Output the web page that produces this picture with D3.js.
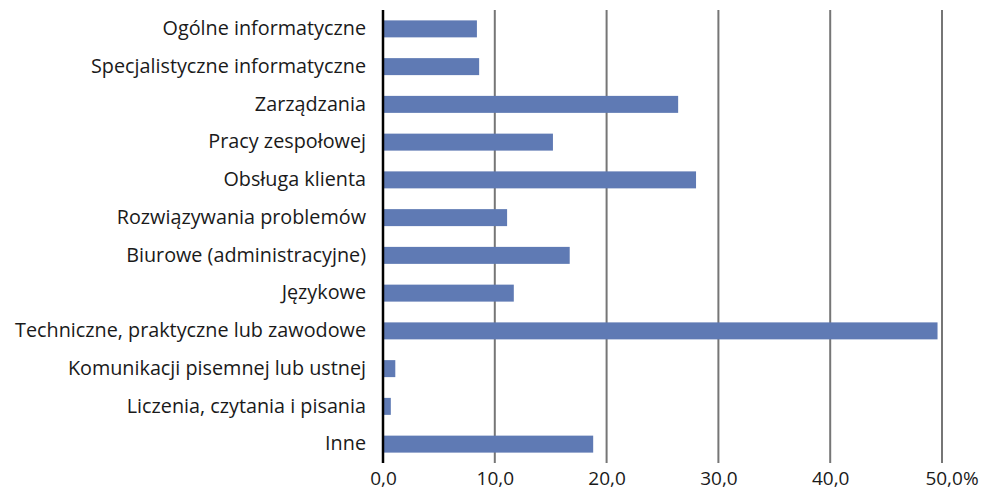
<!DOCTYPE html>
<html>
<head>
<meta charset="utf-8">
<script src="https://cdn.jsdelivr.net/npm/d3@7"></script>
<style>
  body { margin: 0; background: #fff; }
  text { font-family: "Open Sans", sans-serif; fill: #1a1a1a; }
</style>
</head>
<body>
<div id="chart"></div>
<script>
// data
var categories = [
  "Ogólne informatyczne",
  "Specjalistyczne informatyczne",
  "Zarządzania",
  "Pracy zespołowej",
  "Obsługa klienta",
  "Rozwiązywania problemów",
  "Biurowe (administracyjne)",
  "Językowe",
  "Techniczne, praktyczne lub zawodowe",
  "Komunikacji pisemnej lub ustnej",
  "Liczenia, czytania i pisania",
  "Inne"
];
var values = [8.4, 8.6, 26.4, 15.2, 28.0, 11.1, 16.7, 11.7, 49.6, 1.1, 0.7, 18.8];
var xTicks = [0, 10, 20, 30, 40, 50];

var margin = {top: 10, right: 41, bottom: 29, left: 383},
    width = 983 - margin.left - margin.right,
    height = 492 - margin.top - margin.bottom;

var svg = d3.select("#chart")
  .append("svg")
  .attr("width", width + margin.left + margin.right)
  .attr("height", height + margin.top + margin.bottom)
  .append("g")
  .attr("transform", "translate(" + margin.left + "," + margin.top + ")");

var x = d3.scaleLinear().domain([0, 50]).range([0, width]);
var y = d3.scaleBand().domain(categories).range([0, height]).paddingInner(0.55).paddingOuter(0.275);

// gridlines
svg.selectAll(".grid")
  .data(xTicks.slice(1))
  .enter().append("line")
  .attr("x1", function(d) { return x(d); })
  .attr("x2", function(d) { return x(d); })
  .attr("y1", 0)
  .attr("y2", height)
  .attr("stroke", "#767676")
  .attr("stroke-width", 2);

// bars
svg.selectAll(".bar")
  .data(values)
  .enter().append("rect")
  .attr("x", x(0) + 1)
  .attr("y", function(d, i) { return y(categories[i]); })
  .attr("width", function(d) { return x(d) - x(0) - 1; })
  .attr("height", y.bandwidth())
  .attr("fill", "#5f7ab4");

// x axis labels
svg.append("g")
  .attr("transform", "translate(0," + height + ")")
  .call(d3.axisBottom(x).tickValues(xTicks).tickSize(0).tickPadding(9)
    .tickFormat(function(d) { return d3.format(".1f")(d).replace(".", ",") + (d === 50 ? "%" : ""); }))
  .call(function(g) { g.select(".domain").remove(); })
  .selectAll("text")
  .attr("font-size", 19)
  .attr("font-family", "Open Sans, sans-serif")
  .attr("fill", "#1a1a1a")
  .attr("dx", function(d) { return d === 50 ? "0.5em" : 0; });

// y axis
var yAxis = svg.append("g")
  .call(d3.axisLeft(y).tickSize(0).tickPadding(17));
yAxis.select(".domain").remove();
yAxis.selectAll("text")
  .attr("font-size", 19.8)
  .attr("font-family", "Open Sans, sans-serif")
  .attr("fill", "#1a1a1a");

svg.append("line")
  .attr("x1", 0).attr("x2", 0)
  .attr("y1", 0).attr("y2", height)
  .attr("stroke", "#000")
  .attr("stroke-width", 2.5);
</script>
</body>
</html>
